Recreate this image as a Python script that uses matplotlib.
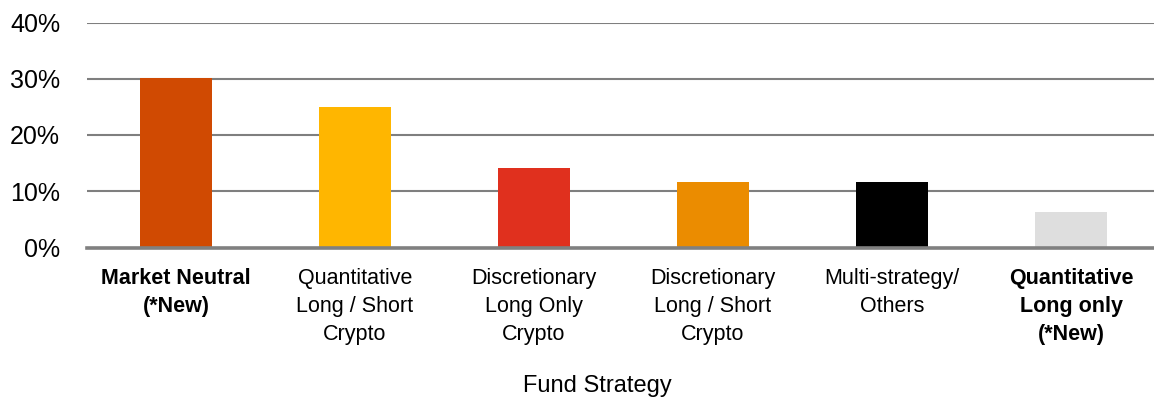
import matplotlib
matplotlib.use("Agg")
import matplotlib.pyplot as plt
from matplotlib.ticker import FuncFormatter

categories = [
    "Market Neutral\n(*New)",
    "Quantitative\nLong / Short\nCrypto",
    "Discretionary\nLong Only\nCrypto",
    "Discretionary\nLong / Short\nCrypto",
    "Multi-strategy/\nOthers",
    "Quantitative\nLong only\n(*New)",
]
values = [30.2, 24.9, 14.2, 11.7, 11.7, 6.4]
bold_flags = [True, False, False, False, False, True]
colors = ["#D04A02", "#FFB600", "#E0301E", "#EB8C00", "#000000", "#DEDEDE"]
yticks = [0, 10, 20, 30, 40]
xlabel = "Fund Strategy"

plt.rcParams["font.family"] = ["Liberation Sans", "DejaVu Sans"]

W, H = 1154, 401
fig = plt.figure(figsize=(W / 100, H / 100), dpi=100)
left_px, right_px = 86.5, 1160.5
top_px, zero_px = 22.5, 247.5
ax = fig.add_axes([left_px / W, (H - zero_px) / H,
                   (right_px - left_px) / W, (zero_px - top_px) / H])

x = list(range(len(categories)))
ax.bar(x, values, width=0.40, color=colors, zorder=3)

ax.set_xlim(-0.5, len(categories) - 0.5)
ax.set_ylim(0, 40)
ax.set_yticks(yticks)
ax.yaxis.set_major_formatter(FuncFormatter(lambda v, p: f"{int(v)}%"))
ax.grid(axis="y", color="#7F7F7F", linewidth=1.5, zorder=0)
ax.set_axisbelow(True)
for s in ["top", "right", "left"]:
    ax.spines[s].set_visible(False)
ax.spines["bottom"].set_color("#808080")
ax.spines["bottom"].set_linewidth(2.6)
ax.spines["bottom"].set_zorder(4)

ax.tick_params(axis="y", length=0, pad=19, labelsize=18)
ax.tick_params(axis="x", length=0, pad=15)
ax.set_xticks(x)
ax.set_xticklabels(categories, fontsize=15.5, linespacing=1.42, color="#000000")
for lbl, b in zip(ax.get_xticklabels(), bold_flags):
    if b:
        lbl.set_fontweight("bold")
for lbl in ax.get_yticklabels():
    lbl.set_color("#000000")

fig.text(597 / W, (H - 392) / H, xlabel, ha="center", va="baseline", fontsize=17)

fig.savefig("out.png", dpi=100)
